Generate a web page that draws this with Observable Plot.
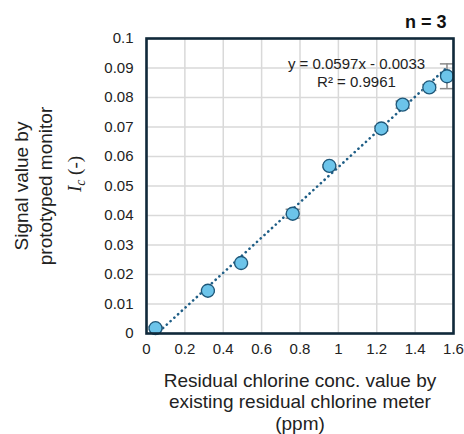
<!DOCTYPE html>
<html>
<head>
<meta charset="utf-8">
<script src="https://cdn.jsdelivr.net/npm/d3@7"></script>
<script src="https://cdn.jsdelivr.net/npm/@observablehq/plot@0.6"></script>
<style>
  html, body { margin: 0; padding: 0; background: #fff; }
  #chart { width: 464px; height: 434px; }
  svg { font-family: "Liberation Sans", Arial, sans-serif; }
</style>
</head>
<body>
<div id="chart"></div>
<script>
// ---- data ----
const conc   = [0.047, 0.320, 0.493, 0.762, 0.953, 1.224, 1.335, 1.474, 1.566]; // ppm
const signal = [0.0018, 0.0145, 0.0239, 0.0406, 0.0568, 0.0695, 0.0776, 0.0834, 0.0872];
const sdev   = [0.0004, 0.0004, 0.0004, 0.0015, 0.0004, 0.0008, 0.0012, 0.0010, 0.0042];
const slope = 0.0597, intercept = -0.0033;
const equationText = "y = 0.0597x - 0.0033\nR² = 0.9961";
const nText = "n = 3";
const xTicks = [0, 0.2, 0.4, 0.6, 0.8, 1, 1.2, 1.4, 1.6];
const xTickLabels = ["0", "0.2", "0.4", "0.6", "0.8", "1", "1.2", "1.4", "1.6"];
const yTicks = [0, 0.01, 0.02, 0.03, 0.04, 0.05, 0.06, 0.07, 0.08, 0.09, 0.1];
const yTickLabels = ["0", "0.01", "0.02", "0.03", "0.04", "0.05", "0.06", "0.07", "0.08", "0.09", "0.1"];
const xTitle = "Residual chlorine conc. value by\nexisting residual chlorine meter\n(ppm)";
const yTitle = "Signal value by\nprototyped monitor";
const icLabel = "Ic (-)";

// ---- derived tables ----
const points = conc.map((x, i) => ({x, y: signal[i], lo: signal[i] - sdev[i], hi: signal[i] + sdev[i]}));
const xMin = d3.min(conc), xMax = d3.max(conc);
const trend = [xMin, xMax].map(x => ({x, y: slope * x + intercept}));

const capSymbol = {
  draw(context, size) {
    const w = Math.sqrt(size);
    context.moveTo(-w, 0);
    context.lineTo(w, 0);
  }
};

const chart = Plot.plot({
  width: 464,
  height: 434,
  marginLeft: 146,
  marginRight: 11,
  marginTop: 38,
  marginBottom: 101,
  style: {fontFamily: "'Liberation Sans', Arial, sans-serif", fontSize: "15px", color: "#222", background: "#fff"},
  x: {domain: [0, 1.6], label: null},
  y: {domain: [0, 0.1], label: null},
  marks: [
    Plot.gridX(xTicks, {stroke: "#d9d9d9", strokeOpacity: 1, strokeWidth: 1.5}),
    Plot.gridY(yTicks, {stroke: "#d9d9d9", strokeOpacity: 1, strokeWidth: 1.5}),
    Plot.axisX(xTicks, {tickSize: 0, tickPadding: 10, tickFormat: (d) => xTickLabels[xTicks.indexOf(d)], fontSize: 15, fill: "#222", label: null}),
    Plot.axisY(yTicks, {tickSize: 0, tickPadding: 13, tickFormat: (d) => yTickLabels[yTicks.indexOf(d)], fontSize: 15, fill: "#222", label: null}),
    Plot.line(trend, {x: "x", y: "y", stroke: "#1f5e86", strokeWidth: 2.6, strokeDasharray: "0.1,5", strokeLinecap: "round", clip: true}),
    Plot.ruleX(points, {x: "x", y1: "lo", y2: "hi", stroke: "#8a8a8a", strokeWidth: 1.5}),
    Plot.dot(points, {x: "x", y: "hi", symbol: capSymbol, r: 4, stroke: "#8a8a8a", strokeWidth: 1.5}),
    Plot.dot(points, {x: "x", y: "lo", symbol: capSymbol, r: 4, stroke: "#8a8a8a", strokeWidth: 1.5}),
    Plot.dot(points, {x: "x", y: "y", r: 6.5, fill: "#6cc4ea", stroke: "#1d5678", strokeWidth: 1.3}),
    Plot.frame({stroke: "#10293a", strokeWidth: 2.6}),
    Plot.text([equationText], {frameAnchor: "top-left", dx: 210, dy: 33.5, lineAnchor: "middle", lineHeight: 1.2, textAnchor: "middle", fontSize: 15, fill: "#222"}),
    Plot.text([nText], {frameAnchor: "top-right", dx: -7, dy: -16, lineAnchor: "middle", textAnchor: "end", fontSize: 18, fontWeight: "bold", fill: "#111"}),
    Plot.text([xTitle], {frameAnchor: "bottom", dy: 38, lineAnchor: "top", lineHeight: 1.13, textAnchor: "middle", fontSize: 19, fill: "#222"}),
    Plot.text([yTitle], {frameAnchor: "left", dx: -114, dy: 0, rotate: -90, lineAnchor: "middle", lineHeight: 1.26, textAnchor: "middle", fontSize: 19, fill: "#222"}),
    Plot.text([icLabel], {frameAnchor: "left", dx: -72, dy: -12, rotate: -90, lineAnchor: "middle", textAnchor: "middle", fontSize: 19, fill: "#222"})
  ]
});

// style I_c label: italic serif I with subscript c
d3.select(chart).selectAll("text").filter(function () { return this.textContent === icLabel; }).each(function () {
  const t = d3.select(this);
  t.text(null).attr("font-family", "'Liberation Serif', 'Times New Roman', serif");
  t.append("tspan").attr("font-style", "italic").text("I");
  t.append("tspan").attr("font-style", "italic").attr("font-size", "0.72em").attr("dy", "0.3em").text("c");
  t.append("tspan").attr("dy", "-0.22em").text(" (-)");
});

document.getElementById("chart").appendChild(chart);
</script>
</body>
</html>
